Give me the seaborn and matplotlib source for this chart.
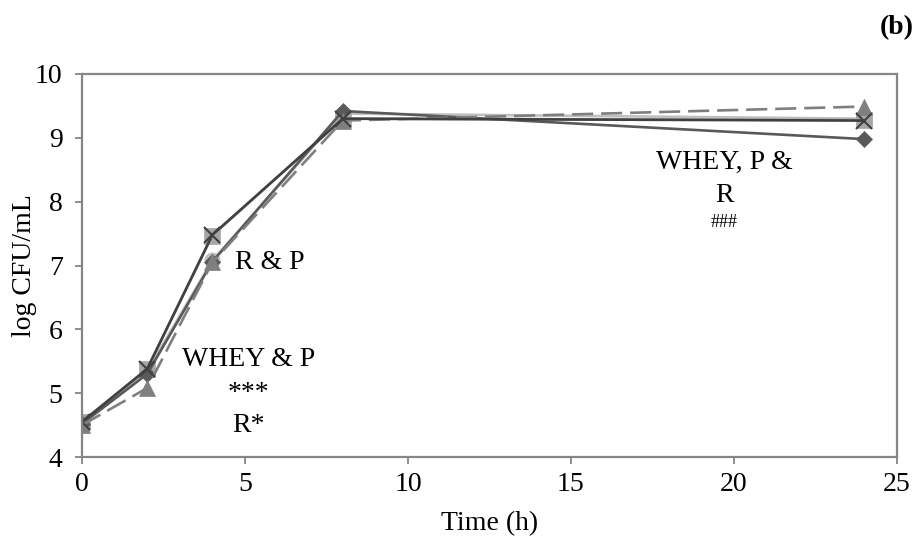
import matplotlib
matplotlib.use("Agg")
import matplotlib.pyplot as plt
import seaborn as sns
import pandas as pd

# ---- data ----
time_h = [0, 2, 4, 8, 24]
diamond_vals = [4.52, 5.30, 7.06, 9.42, 8.98]
circle_vals = [4.53, 5.35, 7.08, 9.38, 9.30]
square_vals = [4.55, 5.38, 7.47, 9.30, 9.28]
triangle_vals = [4.50, 5.08, 7.05, 9.27, 9.49]
cross_vals = [4.55, 5.38, 7.48, 9.30, 9.27]

x_ticks = [0, 5, 10, 15, 20, 25]
y_ticks = [4, 5, 6, 7, 8, 9, 10]

sns.set_theme(style="white")
plt.rcParams['font.family'] = ['Liberation Serif', 'DejaVu Serif']
plt.rcParams['text.color'] = 'black'
plt.rcParams['axes.labelcolor'] = 'black'
plt.rcParams['xtick.labelcolor'] = 'black'
plt.rcParams['ytick.labelcolor'] = 'black'

fig = plt.figure(figsize=(9.19, 5.48), dpi=100)
ax = fig.add_axes([0.0892, 0.166, 0.8868, 0.699])

FS = 20

def draw(vals, marker, mcolor, lcolor, ls, ms, lw=1.9, mec=None):
    df = pd.DataFrame({"t": time_h, "v": vals})
    sns.lineplot(data=df, x="t", y="v", ax=ax, color=lcolor, linestyle=ls,
                 linewidth=lw, marker=marker, markersize=ms,
                 markerfacecolor=mcolor, markeredgecolor=mec if mec else mcolor,
                 markeredgewidth=1.5 if marker == "x" else 0.5, legend=False)

draw(circle_vals, "o", "#bfbfbf", "#bfbfbf", "-", 11)
draw(square_vals, "s", "#a6a6a6", "#a6a6a6", "-", 11)
draw(diamond_vals, "D", "#595959", "#595959", "-", 8.5)
draw(triangle_vals, "^", "#7f7f7f", "#7f7f7f", (0, (8, 3)), 12)
draw(cross_vals, "x", "#404040", "#404040", "-", 11, mec="#404040")

ax.set_xlim(0, 25)
ax.set_ylim(4, 10)
ax.set_xticks(x_ticks)
ax.set_yticks(y_ticks)
ax.set_xticklabels([str(v) for v in x_ticks], fontsize=FS)
ax.set_yticklabels([str(v) for v in y_ticks], fontsize=FS)
ax.tick_params(axis="both", direction="out", length=5, width=1.3,
               color="#868686", bottom=True, left=True)
ax.tick_params(axis="y", pad=9)
ax.tick_params(axis="x", pad=6)
for s in ax.spines.values():
    s.set_color("#868686")
    s.set_linewidth(1.6)
    s.set_visible(True)
ax.grid(False)

ax.set_xlabel("Time (h)", fontsize=FS, labelpad=10)
ax.set_ylabel("log CFU/mL", fontsize=FS, labelpad=-1.5)

ax.text(4.7, 7.04, "R & P", fontsize=FS, ha="left", va="center")
ax.text(5.1, 5.52, "WHEY & P", fontsize=FS, ha="center", va="center")
ax.text(5.1, 5.0, "***", fontsize=FS, ha="center", va="center")
ax.text(5.1, 4.50, "R*", fontsize=FS, ha="center", va="center")
ax.text(19.7, 8.62, "WHEY, P &", fontsize=FS, ha="center", va="center")
ax.text(19.7, 8.10, "R", fontsize=FS, ha="center", va="center")
ax.text(19.7, 7.68, "###", fontsize=13, ha="center", va="center")

fig.text(0.976, 0.949, "(b)", fontsize=FS, fontweight="bold", ha="center", va="center")

fig.savefig("out.png", dpi=100, facecolor="white")
